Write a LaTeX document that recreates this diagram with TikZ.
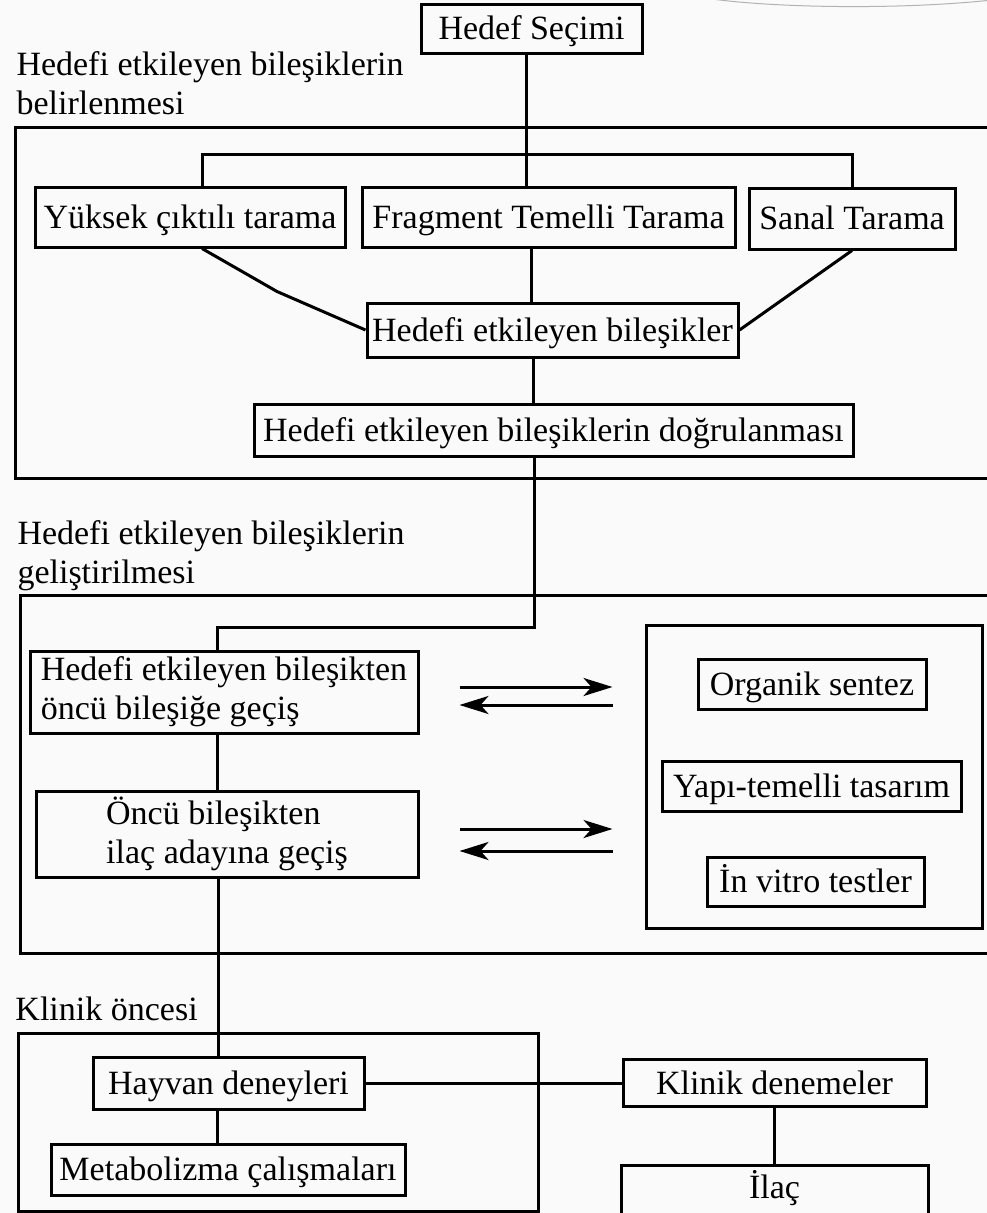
\documentclass[tikz,border=0pt]{standalone}
\usepackage{fontspec}
\setmainfont{Liberation Serif}
\usetikzlibrary{arrows.meta,positioning,calc}

\begin{document}
\begin{tikzpicture}[
    x=1pt,y=-1pt,
    font=\fontsize{34}{39}\selectfont,
    line width=3pt,
    block/.style={rectangle,draw,inner sep=0pt,align=center,text height=22pt,text depth=0pt},
    tallblock/.style={rectangle,draw,inner sep=0pt,align=left},
    grplabel/.style={inner sep=0pt,align=left,anchor=base west},
    arrow/.style={-{Stealth[length=29pt,width=18pt,inset=8pt]},shorten <=40pt,shorten >=32pt},
    backarrow/.style={{Stealth[length=29pt,width=18pt,inset=8pt]}-,shorten <=40pt,shorten >=32pt}
]
    \useasboundingbox (0,0) rectangle (987,1213);
    \fill[black!2] (0,0) rectangle (987,1213);
    \clip (0,0) rectangle (987,1213);
    \draw[black!30,line width=1pt] (705,-2) .. controls (770,8) and (900,10) .. (992,0);

    % stage frames and their titles
    \draw (15,127) rectangle (1000,478);
    \draw (20,595) rectangle (1000,953);
    \draw (18,1033) rectangle (538,1211);
    \node[grplabel] (lbl1) at (15,114) {Hedefi etkileyen bileşiklerin\\belirlenmesi};
    \node[grplabel] (lbl2) at (16,583) {Hedefi etkileyen bileşiklerin\\geliştirilmesi};
    \node[grplabel] (lbl3) at (14,1020) {Klinik öncesi};

    \node[block,minimum width=221pt,minimum height=49pt] (hedef) at (531.5,28.5) {Hedef Seçimi};

    \node[block,minimum width=310pt,minimum height=60pt] (yuksek) at (190,217) {Yüksek çıktılı tarama};
    \node[block,minimum width=373pt,minimum height=60pt] (fragment) at (548.5,217) {Fragment Temelli Tarama};
    \node[block,minimum width=206pt,minimum height=61pt] (sanal) at (852,218.5) {Sanal Tarama};
    \node[block,minimum width=371pt,minimum height=54pt] (bilesik) at (552.5,330) {Hedefi etkileyen bileşikler};
    \node[block,minimum width=599pt,minimum height=52pt] (dogrulama) at (553.5,430) {Hedefi etkileyen bileşiklerin doğrulanması};

    \node[tallblock,minimum width=388pt,minimum height=82pt] (gecis1) at (224,692) {Hedefi etkileyen bileşikten\\öncü bileşiğe geçiş};
    \node[tallblock,minimum width=382pt,minimum height=86pt] (gecis2) at (227,834) {Öncü bileşikten\\ilaç adayına geçiş};
    \node[draw,inner sep=0pt,minimum width=336pt,minimum height=303pt] (sag) at (814,776.5) {};
    \node[block,minimum width=228pt,minimum height=50pt] (organik) at (812,684) {Organik sentez};
    \node[block,minimum width=299pt,minimum height=50pt] (yapi) at (811.5,786) {Yapı-temelli tasarım};
    \node[block,minimum width=217pt,minimum height=49pt] (invitro) at (815.5,881.5) {İn vitro testler};

    \node[block,minimum width=271pt,minimum height=52pt] (hayvan) at (228.5,1083) {Hayvan deneyleri};
    \node[block,minimum width=354pt,minimum height=51pt] (metabolizma) at (228,1169.5) {Metabolizma çalışmaları};
    \node[block,minimum width=303pt,minimum height=47pt] (klinik) at (774.5,1083) {Klinik denemeler};
    \node[block,minimum width=307pt,text height=33pt,text depth=70pt,anchor=north] (ilac) at (774.5,1164) {İlaç};

    % connectors
    \draw ([xshift=-5.5pt]hedef.south) -- ([xshift=-5.5pt]hedef.south |- fragment.north);
    \draw ([xshift=12pt]yuksek.north) -- ++(0,-31) -| (sanal.north);
    \draw ([xshift=12pt]yuksek.south) -- ++(75,43) -- (bilesik.west);
    \draw ([xshift=-17pt]fragment.south) -- ([xshift=-17pt]fragment.south |- bilesik.north);
    \draw (sanal.south) -- (bilesik.east);
    \draw ([xshift=-19pt]bilesik.south) -- ([xshift=-19pt]bilesik.south |- dogrulama.north);
    \draw ([xshift=-19.5pt]dogrulama.south) -- ++(0,170) -| ([xshift=-7pt]gecis1.north);
    \draw ([xshift=-7pt]gecis1.south) -- ([xshift=-7pt]gecis1.south |- gecis2.north);
    \draw ([xshift=-9pt]gecis2.south) -- ([xshift=-9pt]gecis2.south |- hayvan.north);
    \draw ([xshift=-11pt]hayvan.south) -- ([xshift=-11pt]hayvan.south |- metabolizma.north);
    \draw (hayvan.east) -- (klinik.west);
    \draw (klinik.south) -- (ilac.north);

    \draw[arrow] ([yshift=5pt]gecis1.east) -- ([yshift=5pt]gecis1.east -| sag.west);
    \draw[backarrow] ([yshift=-13pt]gecis1.east) -- ([yshift=-13pt]gecis1.east -| sag.west);
    \draw[arrow] ([yshift=5pt]gecis2.east) -- ([yshift=5pt]gecis2.east -| sag.west);
    \draw[backarrow] ([yshift=-17pt]gecis2.east) -- ([yshift=-17pt]gecis2.east -| sag.west);
\end{tikzpicture}
\end{document}
